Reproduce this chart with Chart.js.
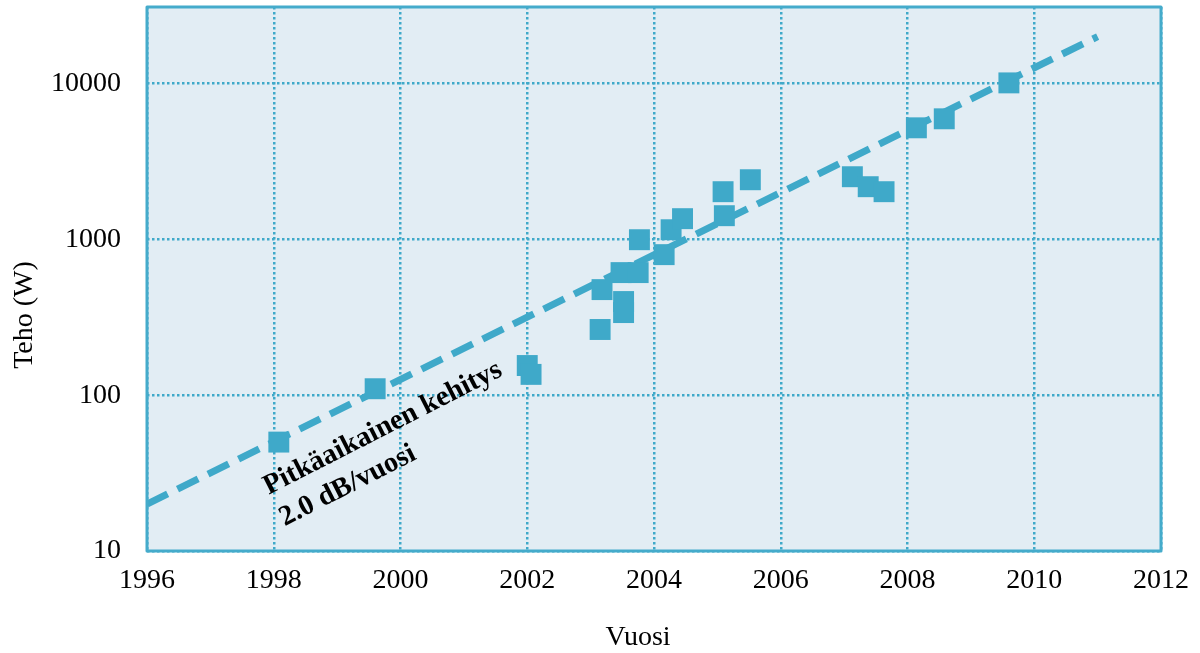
<!DOCTYPE html>
<html>
<head>
<meta charset="utf-8">
<title>Teho vs vuosi</title>
<script src="https://cdn.jsdelivr.net/npm/chart.js@4/dist/chart.umd.min.js"></script>
<style>
  html, body { margin: 0; padding: 0; background: #ffffff; }
  canvas { display: block; }
</style>
</head>
<body>
<canvas id="powerChart" width="1200" height="653"></canvas>
<script>
// Measured devices: year and output power (W)
const pointYears = [1998.08, 1999.6, 2002.0, 2002.06, 2003.15, 2003.18, 2003.52, 2003.52, 2003.48, 2003.75, 2003.77,
    2004.16, 2004.27, 2004.45, 2005.09, 2005.11, 2005.52, 2007.13, 2007.38, 2007.63, 2008.14, 2008.58, 2009.6];
const pointPower = [50, 110, 155, 136, 264, 476, 399, 339, 612, 612, 995,
    798, 1153, 1358, 2023, 1419, 2414, 2524, 2178, 2023, 5200, 5940, 10100];

// Long-term trend line endpoints (2.0 dB / year)
const trendYears = [1996, 2011];
const trendPower = [20, 20000];

// Axis ticks
const xTicks = [1996, 1998, 2000, 2002, 2004, 2006, 2008, 2010, 2012];
const yTicks = [10, 100, 1000, 10000];

const trendLabel = ["Pitkäaikainen kehitys", "2.0 dB/vuosi"];

const BLUE = "#3fa9c9";
const PLOT_BG = "#e2edf4";
const SERIF = "'Liberation Serif', 'Times New Roman', serif";

// Plot background, border, axis titles and the trend annotation
const decorPlugin = {
    id: "decor",
    beforeDraw(chart) {
        const { ctx, chartArea: a } = chart;
        ctx.save();
        ctx.fillStyle = PLOT_BG;
        ctx.fillRect(a.left, a.top, a.right - a.left, a.bottom - a.top);
        ctx.restore();
    },
    afterDatasetsDraw(chart) {
        const { ctx, chartArea: a, scales } = chart;
        ctx.save();
        // border round the plot
        ctx.strokeStyle = "#45abcb";
        ctx.lineWidth = 3;
        ctx.lineJoin = "round";
        ctx.strokeRect(a.left, a.top, a.right - a.left, a.bottom - a.top);

        // trend annotation text
        const ax = scales.x.getPixelForValue(1997.92);
        const ay = scales.y.getPixelForValue(23);
        ctx.translate(ax, ay);
        ctx.rotate(-27 * Math.PI / 180);
        ctx.fillStyle = "#000";
        ctx.font = "bold 28.5px " + SERIF;
        ctx.textAlign = "left";
        ctx.textBaseline = "alphabetic";
        ctx.fillText(trendLabel[0], 0, 0);
        ctx.fillText(trendLabel[1], 0, 35.5);
        ctx.restore();

        // axis titles
        ctx.save();
        ctx.fillStyle = "#000";
        ctx.font = "28px " + SERIF;
        ctx.textAlign = "center";
        ctx.textBaseline = "middle";
        ctx.fillText("Vuosi", 638, 638);
        ctx.translate(25, 315);
        ctx.rotate(-Math.PI / 2);
        ctx.fillText("Teho (W)", 0, 0);
        ctx.restore();
    }
};

const ctx = document.getElementById("powerChart").getContext("2d");
new Chart(ctx, {
    type: "scatter",
    data: {
        datasets: [
            {
                label: "Teho",
                data: pointYears.map((x, i) => ({ x: x, y: pointPower[i] })),
                backgroundColor: BLUE,
                borderWidth: 0,
                pointStyle: "rect",
                pointRadius: 14.8,
                pointHoverRadius: 14.8,
                order: 0
            },
            {
                label: "Trendi",
                data: trendYears.map((x, i) => ({ x: x, y: trendPower[i] })),
                showLine: true,
                borderColor: BLUE,
                borderWidth: 7,
                borderDash: [23, 11],
                pointRadius: 0,
                fill: false,
                order: 1
            }
        ]
    },
    options: {
        responsive: false,
        animation: false,
        devicePixelRatio: 1,
        // big square markers would otherwise push the plot area inwards
        layout: { autoPadding: false, padding: { top: 7, right: 39, left: 0, bottom: 0 } },
        plugins: {
            legend: { display: false },
            tooltip: { enabled: false }
        },
        scales: {
            x: {
                type: "linear",
                min: xTicks[0],
                max: xTicks[xTicks.length - 1],
                afterBuildTicks: scale => { scale.ticks = xTicks.map(v => ({ value: v })); },
                afterFit: scale => {
                    scale.height = 102;
                    scale.paddingLeft = 0;
                    scale.paddingRight = 0;
                },
                ticks: {
                    color: "#000",
                    font: { family: SERIF, size: 28 },
                    padding: 13,
                    maxRotation: 0,
                    callback: v => String(v)
                },
                grid: { color: BLUE, lineWidth: 2.5, drawTicks: false },
                border: { display: false, dash: [2.5, 2.5] }
            },
            y: {
                type: "logarithmic",
                min: 10,
                max: 31000,
                afterBuildTicks: scale => { scale.ticks = yTicks.map(v => ({ value: v })); },
                afterFit: scale => {
                    scale.width = 147;
                    scale.paddingTop = 0;
                    scale.paddingBottom = 0;
                },
                ticks: {
                    color: "#000",
                    font: { family: SERIF, size: 28 },
                    padding: 26,
                    callback: v => String(v)
                },
                grid: { color: BLUE, lineWidth: 2.5, drawTicks: false },
                border: { display: false, dash: [2.5, 2.5] }
            }
        }
    },
    plugins: [decorPlugin]
});
</script>
</body>
</html>
